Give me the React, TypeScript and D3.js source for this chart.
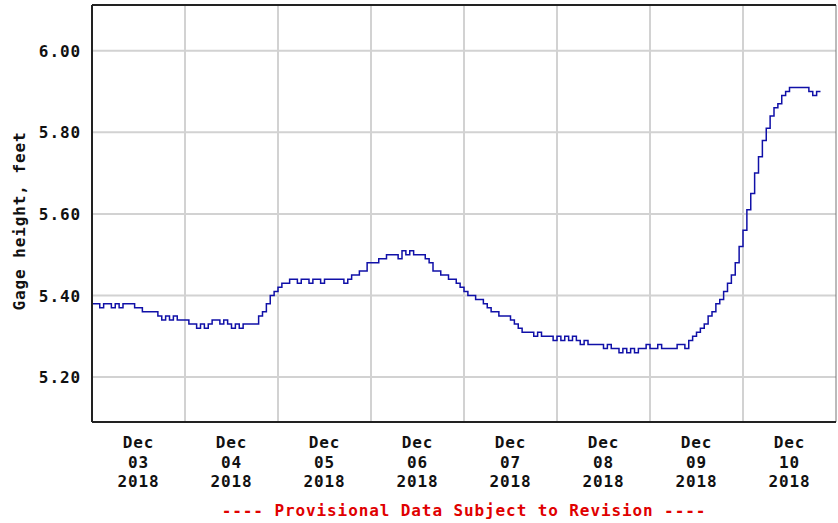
import { useMemo } from 'react'
import * as d3 from 'd3'

// hourly gage height readings (feet), one array per day, starting 00:00
const dec03 = [5.38, 5.38, 5.37, 5.38, 5.38, 5.37, 5.38, 5.37, 5.38, 5.38, 5.38, 5.37, 5.37, 5.36, 5.36, 5.36, 5.36, 5.35, 5.34, 5.35, 5.34, 5.35, 5.34, 5.34]
const dec04 = [5.34, 5.33, 5.33, 5.32, 5.33, 5.32, 5.33, 5.34, 5.34, 5.33, 5.34, 5.33, 5.32, 5.33, 5.32, 5.33, 5.33, 5.33, 5.33, 5.35, 5.36, 5.38, 5.40, 5.41]
const dec05 = [5.42, 5.43, 5.43, 5.44, 5.44, 5.43, 5.44, 5.44, 5.43, 5.44, 5.44, 5.43, 5.44, 5.44, 5.44, 5.44, 5.44, 5.43, 5.44, 5.45, 5.45, 5.46, 5.46, 5.48]
const dec06 = [5.48, 5.48, 5.49, 5.49, 5.50, 5.50, 5.50, 5.49, 5.51, 5.50, 5.51, 5.50, 5.50, 5.50, 5.49, 5.48, 5.46, 5.46, 5.45, 5.45, 5.44, 5.44, 5.43, 5.42]
const dec07 = [5.41, 5.40, 5.40, 5.39, 5.39, 5.38, 5.37, 5.36, 5.36, 5.35, 5.35, 5.35, 5.34, 5.33, 5.32, 5.31, 5.31, 5.31, 5.30, 5.31, 5.30, 5.30, 5.30, 5.29]
const dec08 = [5.30, 5.29, 5.30, 5.29, 5.30, 5.29, 5.28, 5.29, 5.28, 5.28, 5.28, 5.28, 5.27, 5.28, 5.27, 5.27, 5.26, 5.27, 5.26, 5.27, 5.26, 5.27, 5.27, 5.28]
const dec09 = [5.27, 5.27, 5.28, 5.27, 5.27, 5.27, 5.27, 5.28, 5.28, 5.27, 5.29, 5.30, 5.31, 5.32, 5.33, 5.35, 5.36, 5.38, 5.39, 5.41, 5.43, 5.45, 5.48, 5.52]
const dec10 = [5.56, 5.61, 5.65, 5.70, 5.74, 5.78, 5.81, 5.84, 5.86, 5.87, 5.89, 5.90, 5.91, 5.91, 5.91, 5.91, 5.91, 5.90, 5.89, 5.90, 5.90]

const days = [dec03, dec04, dec05, dec06, dec07, dec08, dec09, dec10]
const yTicks = [5.2, 5.4, 5.6, 5.8, 6.0]
const yDomain = [5.09, 6.112]

const W = 838
const H = 523
const left = 92
const right = 836
const top = 5
const bottom = 422

const FONT = '"DejaVu Sans Mono", "Liberation Mono", monospace'

export default function App() {
  const series = useMemo(() => {
    const out: { t: Date; v: number }[] = []
    days.forEach((vals, d) => {
      vals.forEach((v, h) => {
        out.push({ t: new Date(Date.UTC(2018, 11, 3 + d, h)), v })
      })
    })
    return out
  }, [])

  const x = d3.scaleUtc().domain([new Date(Date.UTC(2018, 11, 3)), new Date(Date.UTC(2018, 11, 11))]).range([left, right])
  const y = d3.scaleLinear().domain(yDomain).range([bottom, top])

  const line = d3
    .line<{ t: Date; v: number }>()
    .x((d) => x(d.t))
    .y((d) => y(d.v))
    .curve(d3.curveStepAfter)

  const dayTicks = x.ticks(d3.utcDay.every(1)!)
  const inner = dayTicks.slice(1, -1)
  const labelDays = dayTicks.slice(0, -1)
  const fmtMon = d3.utcFormat('%b')
  const fmtDay = d3.utcFormat('%d')
  const fmtYr = d3.utcFormat('%Y')

  return (
    <svg width={W} height={H} style={{ position: 'absolute', left: 0, top: 0, background: '#fff' }}>
      <rect x={0} y={0} width={W} height={H} fill="#fff" />
      {/* grid */}
      {inner.map((d, i) => (
        <line key={'v' + i} x1={x(d)} x2={x(d)} y1={top} y2={bottom} stroke="#d2d2d2" strokeWidth={2} />
      ))}
      {yTicks.map((v, i) => (
        <line key={'h' + i} x1={left} x2={right} y1={y(v)} y2={y(v)} stroke="#d2d2d2" strokeWidth={2} />
      ))}

      <path d={line(series) ?? ''} fill="none" stroke="#1010a8" strokeWidth={1.5} />

      {/* frame */}
      <line x1={right} x2={right} y1={top} y2={bottom} stroke="#777" strokeWidth={1} />
      <line x1={left} x2={right} y1={top} y2={top} stroke="#222" strokeWidth={2} />
      <line x1={left} x2={right} y1={bottom} y2={bottom} stroke="#222" strokeWidth={2} />
      <line x1={left} x2={left} y1={top} y2={bottom} stroke="#222" strokeWidth={2} />

      <g fontFamily={FONT} fontWeight="bold" fontSize={16} fill="#111" style={{ letterSpacing: '0.9px' }}>
        {yTicks.map((v, i) => (
          <text key={'yl' + i} x={81} y={y(v) + 6} textAnchor="end">
            {v.toFixed(2)}
          </text>
        ))}
        {labelDays.map((d, i) => {
          const cx = x(d3.utcHour.offset(d, 12))
          return (
            <text key={'xl' + i} textAnchor="middle">
              <tspan x={cx} y={448}>{fmtMon(d)}</tspan>
              <tspan x={cx} y={468}>{fmtDay(d)}</tspan>
              <tspan x={cx} y={487}>{fmtYr(d)}</tspan>
            </text>
          )
        })}
        <text transform="translate(25,221) rotate(-90)" textAnchor="middle">
          Gage height, feet
        </text>
        <text x={(left + right) / 2} y={516} textAnchor="middle" fill="#e00000">
          ---- Provisional Data Subject to Revision ----
        </text>
      </g>
    </svg>
  )
}
